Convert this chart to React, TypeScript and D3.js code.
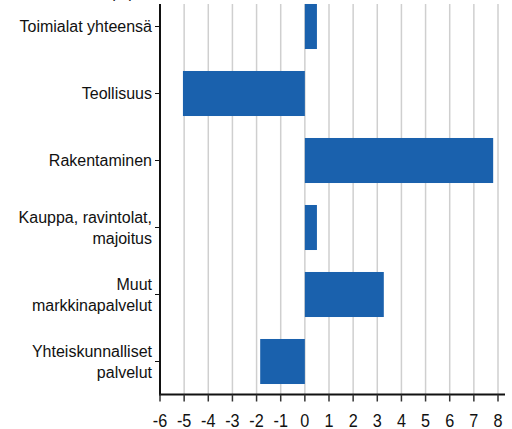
import React, { useEffect, useRef } from 'react';
import * as d3 from 'd3';

const categories = [
  ['Toimialat yhteensä'],
  ['Teollisuus'],
  ['Rakentaminen'],
  ['Kauppa, ravintolat,', 'majoitus'],
  ['Muut', 'markkinapalvelut'],
  ['Yhteiskunnalliset', 'palvelut'],
];
const values = [0.5, -5.05, 7.8, 0.5, 3.27, -1.85];
const xTicks = [-6, -5, -4, -3, -2, -1, 0, 1, 2, 3, 4, 5, 6, 7, 8];

const App = () => {
  const ref = useRef<SVGSVGElement>(null);

  useEffect(() => {
    const width = 512;
    const height = 429;
    const svg = d3.select(ref.current);
    svg.selectAll('*').remove();
    svg.attr('width', width).attr('height', height);

    const plotTop = 4;
    const axisY = 394.5;
    const x = d3.scaleLinear().domain([-6, 8]).range([160, 498]);
    const keys = categories.map((c) => c.join(' '));
    const y = d3
      .scaleBand()
      .domain(keys)
      .range([-7, 395])
      .paddingInner(0.328)
      .paddingOuter(0.164);

    // partly hidden title at the top
    svg.append('text')
      .attr('x', 122)
      .attr('y', -2)
      .attr('text-anchor', 'middle')
      .style('font-family', 'Liberation Sans, Arial, sans-serif')
      .style('font-size', '15px')
      .text('(%)');

    // grid
    svg.append('g')
      .selectAll('line')
      .data(xTicks.filter((t) => t !== -6))
      .enter().append('line')
      .attr('x1', (d) => x(d))
      .attr('x2', (d) => x(d))
      .attr('y1', plotTop)
      .attr('y2', axisY)
      .attr('stroke', '#cfcfcf')
      .attr('stroke-width', 1.5);

    // bars
    svg.append('g')
      .selectAll('rect')
      .data(values)
      .enter().append('rect')
      .attr('x', (d) => x(Math.min(0, d)))
      .attr('y', (d, i) => y(keys[i]))
      .attr('width', (d) => Math.abs(x(d) - x(0)))
      .attr('height', y.bandwidth())
      .attr('fill', '#1a61ad');

    // y axis
    svg.append('line')
      .attr('x1', 160).attr('x2', 160)
      .attr('y1', plotTop).attr('y2', axisY + 1)
      .attr('stroke', '#111').attr('stroke-width', 2);

    const yl = svg.append('g')
      .selectAll('g')
      .data(categories)
      .enter().append('g')
      .attr('transform', (d, i) => `translate(0,${y(keys[i]) + y.bandwidth() / 2})`);

    yl.append('line')
      .attr('x1', 155).attr('x2', 160)
      .attr('stroke', '#111').attr('stroke-width', 1);

    yl.append('text')
      .attr('text-anchor', 'end')
      .style('font-family', 'Liberation Sans, Arial, sans-serif')
      .style('font-size', '16px')
      .attr('fill', '#111')
      .each(function (d) {
        const t = d3.select(this);
        const n = d.length;
        d.forEach((line, k) => {
          t.append('tspan')
            .attr('x', 152)
            .attr('y', (k - (n - 1) / 2) * 21 + 5.5)
            .text(line);
        });
      });

    // x axis
    svg.append('line')
      .attr('x1', 159).attr('x2', 505)
      .attr('y1', axisY).attr('y2', axisY)
      .attr('stroke', '#111').attr('stroke-width', 2);

    const xl = svg.append('g')
      .selectAll('g')
      .data(xTicks)
      .enter().append('g')
      .attr('transform', (d) => `translate(${x(d)},${axisY})`);

    xl.append('line')
      .attr('y1', 0).attr('y2', 7)
      .attr('stroke', '#333').attr('stroke-width', 1.5);

    xl.append('text')
      .attr('text-anchor', 'middle')
      .attr('y', 32.5)
      .attr('transform', 'scale(0.9,1)')
      .style('font-family', 'Liberation Sans, Arial, sans-serif')
      .style('font-size', '18px')
      .attr('fill', '#111')
      .text((d) => String(d));
  });

  return (
    <div style={{ position: 'absolute', left: 0, top: 0 }}>
      <svg ref={ref} style={{ display: 'block' }}></svg>
    </div>
  );
};

export default App;
